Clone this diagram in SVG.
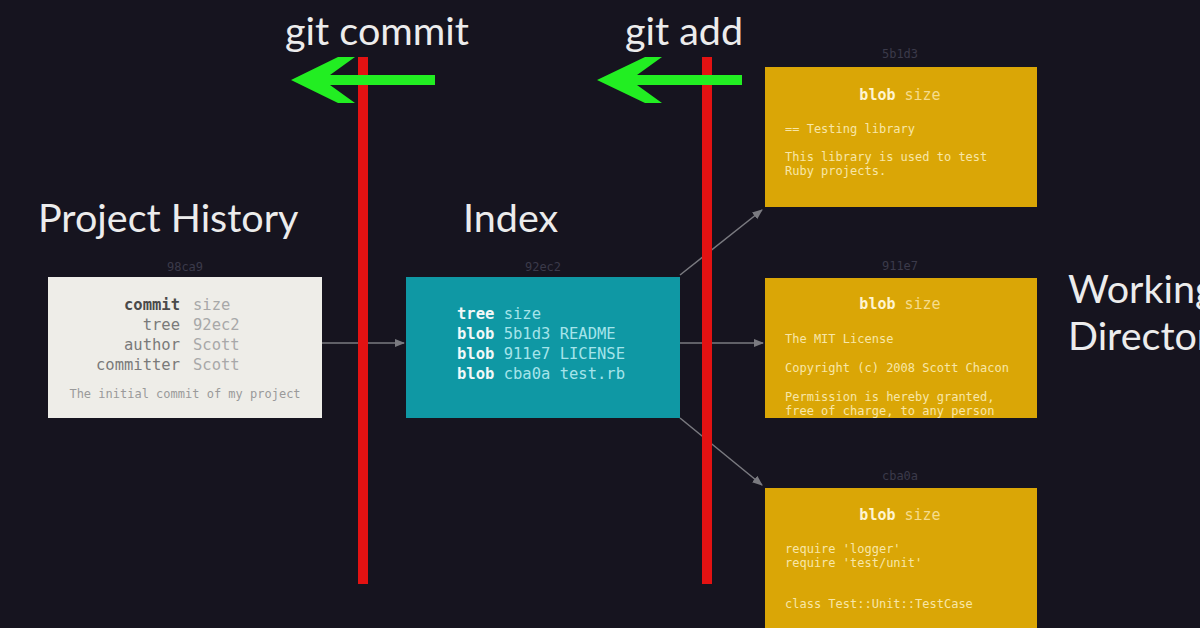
<svg xmlns="http://www.w3.org/2000/svg" width="1200" height="628" viewBox="0 0 1200 628">
<defs>
<style>
.title{font-family:Lato,"Liberation Sans",sans-serif;font-size:39.5px;fill:#ececec}
.mono{font-family:"DejaVu Sans Mono","Liberation Mono",monospace}
.sha{font-family:"DejaVu Sans Mono","Liberation Mono",monospace;font-size:12px;fill:#3b3a4a;text-anchor:middle}
.ck{font-size:15.5px;fill:#4a4a4a;font-weight:bold;text-anchor:end}
.ckn{font-size:15.5px;fill:#7a7a7a;text-anchor:end}
.cv{font-size:15.5px;fill:#a8a8a8}
.ik{font-size:15.5px;fill:#f2f8f8;font-weight:bold}
.iv{font-size:15.5px;fill:#a5e4ea}
.bk{font-size:15px;fill:#fff4d0;font-weight:bold}
.bv{font-size:15px;fill:#f6dc8c}
.bt{font-size:12px;fill:#f8e6a8}
.conn{stroke:#7a7a80;stroke-width:1.5;fill:none}
.red{stroke:#e31212;stroke-width:10}
.green{fill:#22ee22}
</style>
<marker id="ah" viewBox="0 0 10 10" refX="9" refY="5" markerWidth="7" markerHeight="7" orient="auto">
<path d="M0,1 L10,5 L0,9 z" fill="#7a7a80"/>
</marker>
<clipPath id="c2"><rect x="765" y="278" width="272" height="140"/></clipPath>
</defs>
<rect width="1200" height="628" fill="#16141f"/>

<g id="connectors">
<line class="conn" x1="322" y1="343" x2="404" y2="343" marker-end="url(#ah)"/>
<line class="conn" x1="680" y1="275" x2="762" y2="210" marker-end="url(#ah)"/>
<line class="conn" x1="680" y1="343" x2="763" y2="343" marker-end="url(#ah)"/>
<line class="conn" x1="680" y1="418" x2="762" y2="485" marker-end="url(#ah)"/>
</g>

<g id="separators">
<line class="red" x1="363" y1="57" x2="363" y2="584"/>
<line class="red" x1="707" y1="57" x2="707" y2="584"/>
</g>

<g id="git-commit">
<text class="title" x="377" y="45" text-anchor="middle">git commit</text>
<path class="green" d="M435,75 L330,75 L355,57 L338,57 L291,80 L338,103 L355,103 L330,85 L435,85 z"/>
</g>
<g id="git-add">
<text class="title" x="684" y="45" text-anchor="middle">git add</text>
<path class="green" d="M742,75 L637,75 L662,57 L645,57 L597,80 L645,103 L662,103 L637,85 L742,85 z"/>
</g>

<g id="project-history">
<text class="title" x="38" y="232">Project History</text>
<text class="sha" x="185" y="271">98ca9</text>
<rect x="48" y="277" width="274" height="141" fill="#eeede8"/>
<g class="mono">
<text class="ck" x="180" y="310">commit</text><text class="cv" x="193" y="310">size</text>
<text class="ckn" x="180" y="330">tree</text><text class="cv" x="193" y="330">92ec2</text>
<text class="ckn" x="180" y="350">author</text><text class="cv" x="193" y="350">Scott</text>
<text class="ckn" x="180" y="370">committer</text><text class="cv" x="193" y="370">Scott</text>
<text x="185" y="398" font-size="12" fill="#9a9a9a" text-anchor="middle">The initial commit of my project</text>
</g>
</g>

<g id="index">
<text class="title" x="463" y="232">Index</text>
<text class="sha" x="543" y="271">92ec2</text>
<rect x="406" y="277" width="274" height="141" fill="#0f98a4"/>
<g class="mono">
<text x="457" y="319"><tspan class="ik">tree</tspan><tspan class="iv"> size</tspan></text>
<text x="457" y="339"><tspan class="ik">blob</tspan><tspan class="iv"> 5b1d3 README</tspan></text>
<text x="457" y="359"><tspan class="ik">blob</tspan><tspan class="iv"> 911e7 LICENSE</tspan></text>
<text x="457" y="379"><tspan class="ik">blob</tspan><tspan class="iv"> cba0a test.rb</tspan></text>
</g>
</g>

<g id="blob-5b1d3">
<text class="sha" x="900" y="58">5b1d3</text>
<rect x="765" y="67" width="272" height="140" fill="#daa606"/>
<g class="mono">
<text x="900" y="100" text-anchor="middle"><tspan class="bk">blob</tspan><tspan class="bv"> size</tspan></text>
<text class="bt" x="785" y="133">== Testing library</text>
<text class="bt" x="785" y="161">This library is used to test</text>
<text class="bt" x="785" y="175">Ruby projects.</text>
</g>
</g>

<g id="blob-911e7">
<text class="sha" x="900" y="270">911e7</text>
<rect x="765" y="278" width="272" height="140" fill="#daa606"/>
<g class="mono" clip-path="url(#c2)">
<text x="900" y="309" text-anchor="middle"><tspan class="bk">blob</tspan><tspan class="bv"> size</tspan></text>
<text class="bt" x="785" y="343">The MIT License</text>
<text class="bt" x="785" y="372">Copyright (c) 2008 Scott Chacon</text>
<text class="bt" x="785" y="401">Permission is hereby granted,</text>
<text class="bt" x="785" y="415">free of charge, to any person</text>
</g>
</g>

<g id="blob-cba0a">
<text class="sha" x="900" y="480">cba0a</text>
<rect x="765" y="488" width="272" height="150" fill="#daa606"/>
<g class="mono">
<text x="900" y="520" text-anchor="middle"><tspan class="bk">blob</tspan><tspan class="bv"> size</tspan></text>
<text class="bt" x="785" y="553">require 'logger'</text>
<text class="bt" x="785" y="567">require 'test/unit'</text>
<text class="bt" x="785" y="608">class Test::Unit::TestCase</text>
</g>
</g>

<g id="working-directory">
<text class="title" x="1068" y="303">Working</text>
<text class="title" x="1068" y="350">Directory</text>
</g>
</svg>
